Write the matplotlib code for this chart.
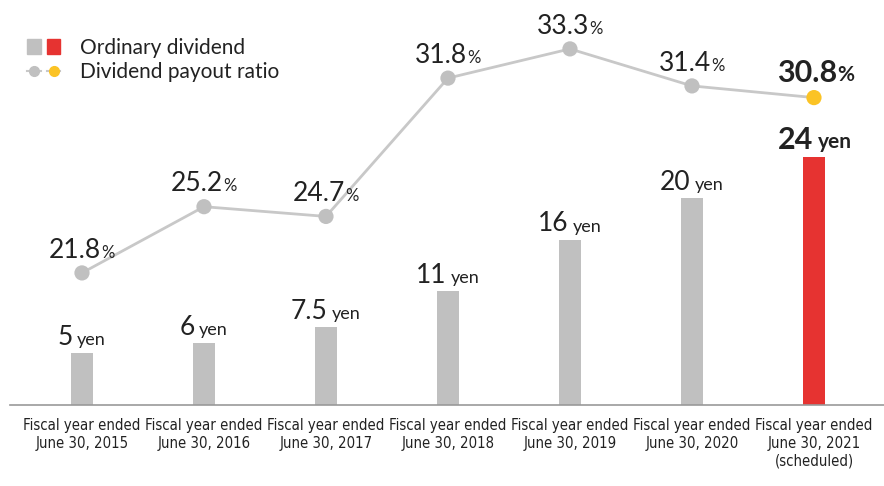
import os
import matplotlib
matplotlib.use('Agg')
import matplotlib.pyplot as plt
from matplotlib import font_manager
from matplotlib.textpath import TextPath
from matplotlib.patches import Patch
from matplotlib.lines import Line2D
from matplotlib.legend_handler import HandlerTuple

years = ['2015', '2016', '2017', '2018', '2019', '2020', '2021']
dividend = [5, 6, 7.5, 11, 16, 20, 24]
dividend_txt = ['5', '6', '7.5', '11', '16', '20', '24']
payout = [21.8, 25.2, 24.7, 31.8, 33.3, 31.4, 30.8]
tick_labels = ['Fiscal year ended\nJune 30, ' + y for y in years]
tick_labels[-1] += '\n(scheduled)'

GRAY = '#c0c0c0'
RED = '#e63331'
LINE = '#c8c8c8'
YELLOW = '#fbc325'
TXT = '#222222'
FONT = 'Lato'

# look for a narrow face for the tick labels
files = {os.path.basename(f.fname): f.fname for f in font_manager.fontManager.ttflist}
narrow = None
for name in ['NotoSans-ExtraCondensed.ttf', 'NotoSans-Condensed.ttf',
             'LiberationSansNarrow-Regular.ttf', 'NotoSans-SemiCondensed.ttf',
             'DejaVuSansCondensed.ttf']:
    if name in files:
        narrow = files[name]
        break
if narrow:
    tick_font = font_manager.FontProperties(fname=narrow, size=10)
else:
    tick_font = font_manager.FontProperties(family='Roboto', size=10)
# size the labels so "Fiscal year ended" nearly fills the slot
w = TextPath((0, 0), 'Fiscal year ended', prop=tick_font).get_extents().width
tick_font.set_size(min(13, 10 * 114 / (w * 100 / 72)))

plt.rcParams['font.family'] = FONT

fig = plt.figure(figsize=(8.84, 4.86), dpi=100)
ax = fig.add_axes([10/884, 81/486, 874/884, 405/486])
x = list(range(len(years)))

bar_colors = [GRAY] * 6 + [RED]
ax.bar(x, dividend, width=22/122, color=bar_colors, zorder=2)
ax.set_xlim(-0.59, 6.574)
ax.set_ylim(0, 39.19)

for s in ['top', 'left', 'right']:
    ax.spines[s].set_visible(False)
ax.spines['bottom'].set_color('#999999')
ax.spines['bottom'].set_linewidth(1.2)
ax.set_yticks([])
ax.set_xticks(x)
ax.set_xticklabels(tick_labels, fontproperties=tick_font, color=TXT, linespacing=1.25)
ax.tick_params(axis='x', length=0, pad=9)

ax2 = ax.twinx()
ax2.set_ylim(15.02, 35.81)
ax2.axis('off')
ax2.plot(x, payout, color=LINE, lw=2, zorder=2)
ax2.scatter(x[:-1], payout[:-1], s=120, color=GRAY, zorder=3, edgecolors='none')
ax2.scatter(x[-1:], payout[-1:], s=120, color=YELLOW, zorder=3, edgecolors='none')


def two_part(a, xv, yv, num, unit, size, usize, weight, dy, shift, gap):
    t = a.annotate(num, (xv, yv), xytext=(shift, dy), textcoords='offset points',
                   ha='center', va='baseline', fontsize=size, fontweight=weight,
                   color=TXT)
    # lift the small unit so both sit on the same baseline
    lift = (size - usize) * 0.2
    a.annotate(unit, xy=(1, 0), xycoords=t, xytext=(gap, lift),
               textcoords='offset points', ha='left', va='bottom',
               fontsize=usize, fontweight=weight, color=TXT)


for i in x:
    last = i == len(x) - 1
    if last:
        two_part(ax, i, dividend[i], dividend_txt[i], 'yen', 22, 15, 'bold', 6, -13, 3)
        two_part(ax2, i, payout[i], '%.1f' % payout[i], '%', 22, 15, 'bold', 11, -5, 0)
    else:
        two_part(ax, i, dividend[i], dividend_txt[i], 'yen', 19, 13, 'normal', 6, -12, 3)
        two_part(ax2, i, payout[i], '%.1f' % payout[i], '%', 19, 12, 'normal', 11, -5, 0)

h1 = (Patch(color=GRAY), Patch(color=RED))
h2 = (Line2D([], [], color=LINE, lw=1.5, marker='o', ms=7, mfc=GRAY, mec=GRAY),
      Line2D([], [], color=LINE, lw=1.5, marker='o', ms=7, mfc=YELLOW, mec=YELLOW))
fig.legend([h1, h2], ['Ordinary dividend', 'Dividend payout ratio'],
           handler_map={tuple: HandlerTuple(ndivide=None, pad=0.3)},
           loc='upper left', bbox_to_anchor=(27/884, 1 - 38/486),
           frameon=False, borderpad=0, borderaxespad=0, handlelength=1.6,
           handletextpad=0.95, labelspacing=0.2,
           prop={'family': FONT, 'size': 15}, labelcolor=TXT)

fig.savefig('out.png', dpi=100)
